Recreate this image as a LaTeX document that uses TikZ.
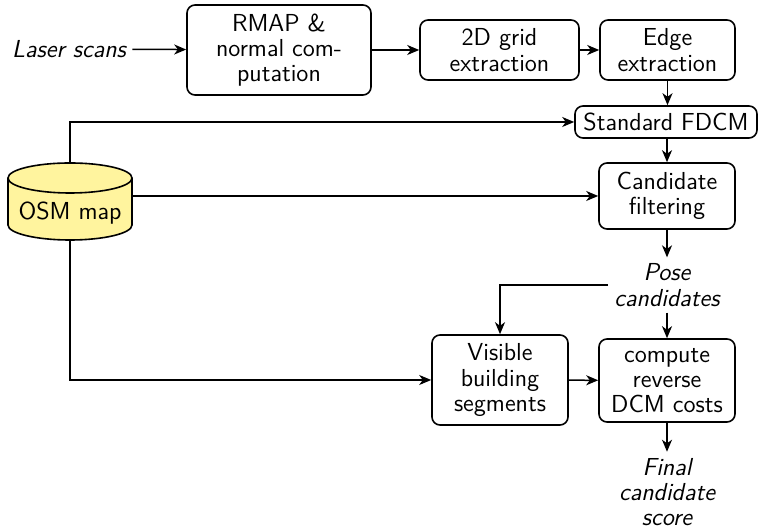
\documentclass[tikz,border=0pt]{standalone}
\usetikzlibrary{arrows.meta}
\definecolor{osmfill}{RGB}{255,244,158}
\begin{document}
\begin{tikzpicture}[x=0.5pt,y=0.5pt,
  font=\sffamily\fontsize{12.3}{12.6}\selectfont,
  box/.style={draw, line width=0.8pt, rounded corners=4pt, align=center, inner sep=2pt},
  txt/.style={align=center, inner sep=3pt, font=\sffamily\itshape\fontsize{12.3}{12.6}\selectfont},
  conn/.style={line width=0.75pt, -{Stealth[length=6pt,width=5pt,inset=1.8pt]}},
  plain/.style={line width=0.75pt}]
\useasboundingbox (0,0) rectangle (759,529);
% nodes
\node[txt] (laser) at (69,480) {Laser scans};
\node[box, minimum width=92pt, minimum height=45pt] (rmap) at (279,479) {RMAP \&\\normal com-\\putation};
\node[box, minimum width=79.5pt, minimum height=30pt] (grid) at (499.5,479) {2D grid\\extraction};
\node[box, minimum width=67.5pt, minimum height=30pt] (edge) at (667.5,479) {Edge\\extraction};
\node[box, minimum width=91pt, minimum height=16pt] (fdcm) at (666,407) {Standard FDCM};
\node[box, minimum width=68pt, minimum height=33pt] (filt) at (667,333) {Candidate\\filtering};
\node[txt] (pose) at (667,244) {Pose\\candidates};
\node[box, minimum width=68pt, minimum height=45pt] (vis) at (500,149) {Visible\\building\\segments};
\node[box, minimum width=68pt, minimum height=41.5pt] (comp) at (667,148.5) {compute\\reverse\\DCM costs};
\node[txt] (final) at (667,37) {Final\\candidate\\score};
% OSM cylinder
\draw[line width=0.8pt, fill=osmfill] (8,351) -- (8,304) arc[start angle=180, end angle=360, x radius=62, y radius=15] -- (132,351) arc[start angle=0, end angle=180, x radius=62, y radius=15] -- cycle;
\draw[line width=0.8pt] (8,351) arc[start angle=180, end angle=360, x radius=62, y radius=15];
\node (osm) at (70,316) {OSM map};
\coordinate (osmtop) at (70,366);
\coordinate (osmbot) at (70,289);
\coordinate (osmE) at (132,327);
% connectors
\draw[conn] (laser) -- (rmap);
\draw[conn] (rmap) -- (grid);
\draw[conn] (grid) -- (edge);
\draw[conn] (edge.south) -- (edge.south |- fdcm.north);
\draw[conn] (osmtop) |- (fdcm.west);
\draw[conn] (fdcm.south -| filt.north) -- (filt.north);
\draw[conn] (osmE |- filt.west) -- (filt.west);
\draw[conn] (filt.south) -- (pose.north);
\draw[conn] (pose.west) -| (vis.north);
\draw[conn] (pose.south) -- (comp.north);
\draw[conn] (osmbot) |- (vis.west);
\draw[conn] (vis) -- (comp);
\draw[conn] (comp.south) -- (final.north);
\end{tikzpicture}
\end{document}
